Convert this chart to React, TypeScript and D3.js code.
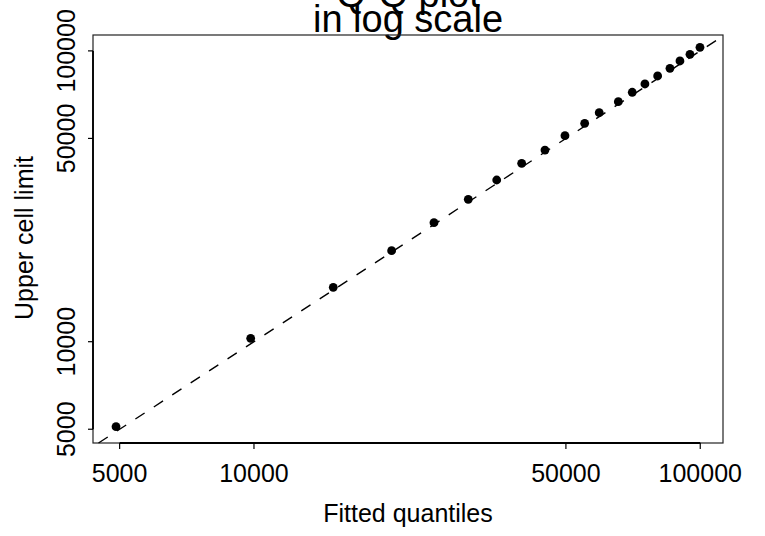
import React from "react";
import * as d3 from "d3";

// Fitted (theoretical) quantiles and observed upper cell limits
const fittedQuantiles = [
  4908, 9831, 15054, 20343, 25313, 30212, 34988, 39794, 44875, 49757,
  55080, 59376, 65524, 70408, 75164, 80259, 85526, 90051, 94822, 99850,
];
const upperCellLimits = [
  5103, 10272, 15384, 20559, 25662, 30877, 35977, 41064, 45611, 51103,
  56364, 61321, 66888, 72060, 76947, 81981, 87135, 92316, 97343, 102890,
];

const xTicks = [5000, 10000, 50000, 100000];
const yTicks = [5000, 10000, 50000, 100000];

const titleLines = ["Q-Q plot", "in log scale"];
const xLabel = "Fitted quantiles";
const yLabel = "Upper cell limit";

const W = 765;
const H = 536;
const box = { left: 93, right: 723, top: 35, bottom: 443 };
const FONT = "'Liberation Sans', Arial, Helvetica, sans-serif";

export default function App() {
  const x = d3
    .scaleLog()
    .domain([4358, 112450])
    .range([box.left, box.right]);
  const y = d3
    .scaleLog()
    .domain([4484, 113400])
    .range([box.bottom, box.top]);

  // reference line y = x across the shared range
  const lo = Math.max(x.domain()[0], y.domain()[0]);
  const hi = Math.min(x.domain()[1], y.domain()[1]);
  const refLine = d3.line<number>()
    .x((d) => x(d))
    .y((d) => y(d))([lo, hi]);

  const cx = (box.left + box.right) / 2;
  const cy = (box.top + box.bottom) / 2;

  return (
    <svg
      width={W}
      height={H}
      style={{ position: "absolute", left: 0, top: 0, background: "#fff" }}
      fontFamily={FONT}
    >
      <rect x={0} y={0} width={W} height={H} fill="#fff" />

      {/* title */}
      <text x={cx} y={7} textAnchor="middle" fontSize={38} fill="#000">
        {titleLines[0]}
      </text>
      <text x={cx} y={32} textAnchor="middle" fontSize={38} fill="#000">
        {titleLines[1]}
      </text>

      {/* plot frame */}
      <rect
        x={box.left}
        y={box.top}
        width={box.right - box.left}
        height={box.bottom - box.top}
        fill="none"
        stroke="#222"
        strokeWidth={1.2}
      />

      {/* x axis */}
      <line
        x1={x(xTicks[0])}
        x2={x(xTicks[xTicks.length - 1])}
        y1={box.bottom}
        y2={box.bottom}
        stroke="#000"
        strokeWidth={1.8}
      />
      {xTicks.map((t) => (
        <g key={"xt" + t}>
          <line
            x1={x(t)}
            x2={x(t)}
            y1={box.bottom}
            y2={box.bottom + 6}
            stroke="#000"
            strokeWidth={1.2}
          />
          <text x={x(t)} y={482} textAnchor="middle" fontSize={25} fill="#000">
            {String(t)}
          </text>
        </g>
      ))}

      {/* y axis */}
      <line
        x1={box.left}
        x2={box.left}
        y1={y(yTicks[0])}
        y2={y(yTicks[yTicks.length - 1])}
        stroke="#000"
        strokeWidth={1.8}
      />
      {yTicks.map((t) => (
        <g key={"yt" + t}>
          <line
            x1={box.left}
            x2={box.left - 5}
            y1={y(t)}
            y2={y(t)}
            stroke="#000"
            strokeWidth={1.2}
          />
          <text
            transform={`translate(75,${y(t)}) rotate(-90)`}
            textAnchor="middle"
            fontSize={25}
            fill="#000"
          >
            {String(t)}
          </text>
        </g>
      ))}

      {/* axis titles */}
      <text x={cx} y={522} textAnchor="middle" fontSize={25} fill="#000">
        {xLabel}
      </text>
      <text
        transform={`translate(33,${cy - 1}) rotate(-90)`}
        textAnchor="middle"
        fontSize={25}
        fill="#000"
      >
        {yLabel}
      </text>

      {/* y = x reference */}
      <path
        d={refLine ?? ""}
        fill="none"
        stroke="#000"
        strokeWidth={1.4}
        strokeDasharray="11,11"
      />

      {/* points */}
      {fittedQuantiles.map((q, i) => (
        <circle key={i} cx={x(q)} cy={y(upperCellLimits[i])} r={4.4} fill="#000" />
      ))}
    </svg>
  );
}
